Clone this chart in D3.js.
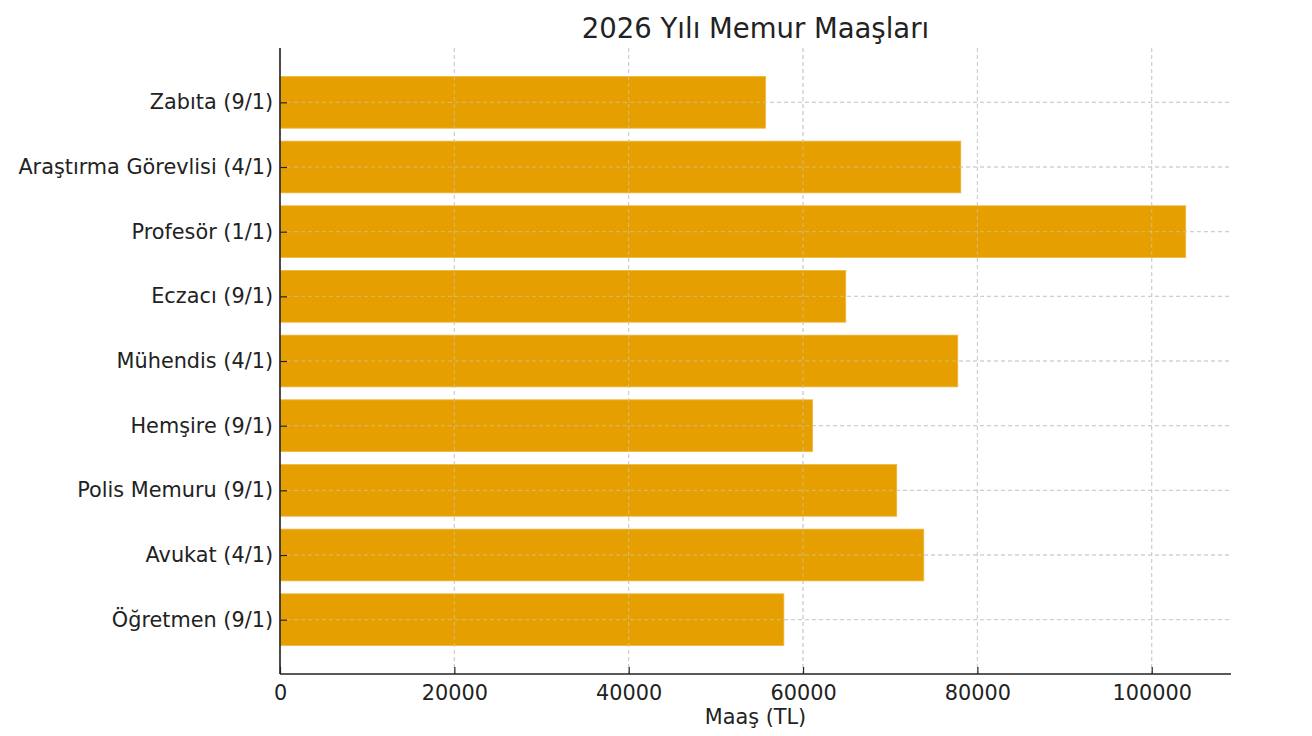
<!DOCTYPE html>
<html><head><meta charset="utf-8">
<script src="https://cdn.jsdelivr.net/npm/d3@7"></script>
<style>body{margin:0;background:#fff}svg{display:block}text{font-family:"DejaVu Sans",sans-serif;fill:#222}</style>
</head><body><svg id="c" width="1312" height="736"></svg>
<script>
const categories = ["Öğretmen (9/1)","Avukat (4/1)","Polis Memuru (9/1)","Hemşire (9/1)","Mühendis (4/1)","Eczacı (9/1)","Profesör (1/1)","Araştırma Görevlisi (4/1)","Zabıta (9/1)"];
const salaries = [57800, 73850, 70750, 61100, 77750, 64900, 103900, 78100, 55700];
const xTicks = [0, 20000, 40000, 60000, 80000, 100000];
const title = "2026 Yılı Memur Maaşları";
const xLabel = "Maaş (TL)";

const svg = d3.select("#c");
const L = 280, R = 1231, T = 48, B = 674;
const xMax = d3.max(salaries) * 1.05;
const x = d3.scaleLinear().domain([0, xMax]).range([L, R]);
const n = categories.length;
// matplotlib-like y limits: bars height 0.8, 5% margin
const lo = -0.4, hi = n - 1 + 0.4, m = (hi - lo) * 0.05;
const ys = d3.scaleLinear().domain([lo - m, hi + m]).range([B, T]);
const grid = "#cccccc";

function drawGrid(op) {
  svg.append("g").selectAll("line").data(xTicks).join("line")
    .attr("x1", d => x(d)).attr("x2", d => x(d)).attr("y1", T).attr("y2", B)
    .attr("stroke", grid).attr("stroke-opacity", op).attr("stroke-width", 1).attr("stroke-dasharray", "4,3");
  svg.append("g").selectAll("line").data(categories).join("line")
    .attr("x1", L).attr("x2", R).attr("y1", (d,i) => ys(i)).attr("y2", (d,i) => ys(i))
    .attr("stroke", grid).attr("stroke-opacity", op).attr("stroke-width", 1).attr("stroke-dasharray", "4,3");
}
drawGrid(1);

// bars
const bh = ys(0) - ys(0.8);
svg.append("g").selectAll("rect").data(salaries).join("rect")
  .attr("x", x(0)).attr("y", (d,i) => ys(i + 0.4))
  .attr("width", d => x(d) - x(0)).attr("height", bh)
  .attr("fill", "#E69F00").attr("stroke", "#F0B640").attr("stroke-width", 0.8);

drawGrid(0.6);

// axes
const xa = d3.axisBottom(x).tickValues(xTicks).tickFormat(d3.format("d")).tickSizeInner(-7).tickSizeOuter(0).tickPadding(11);
const gx = svg.append("g").attr("transform", `translate(0,${B})`).call(xa);
gx.select(".domain").attr("stroke", "#222").attr("stroke-width", 1.6).attr("d", `M${L},0H${R}`);
gx.selectAll(".tick line").attr("stroke", "#222").attr("stroke-width", 1.2);
gx.selectAll(".tick text").attr("font-size", 20.8).attr("font-family", "DejaVu Sans").attr("fill", "#222");

const ya = d3.axisLeft(ys).tickValues(d3.range(n)).tickFormat(i => categories[i]).tickSizeInner(-7).tickSizeOuter(0).tickPadding(7);
const gy = svg.append("g").attr("transform", `translate(${L},0)`).call(ya);
gy.select(".domain").attr("stroke", "#222").attr("stroke-width", 1.6).attr("d", `M0,${T}V${B}`);
gy.selectAll(".tick line").attr("stroke", "#222").attr("stroke-width", 1.2);
gy.selectAll(".tick text").attr("font-size", 20.8).attr("font-family", "DejaVu Sans").attr("fill", "#222");

svg.append("text").attr("x", (L+R)/2).attr("y", 38).attr("text-anchor", "middle")
  .attr("font-size", 27.5).text(title);
svg.append("text").attr("x", (L+R)/2).attr("y", 724).attr("text-anchor", "middle")
  .attr("font-size", 20.8).text(xLabel);
</script></body></html>
